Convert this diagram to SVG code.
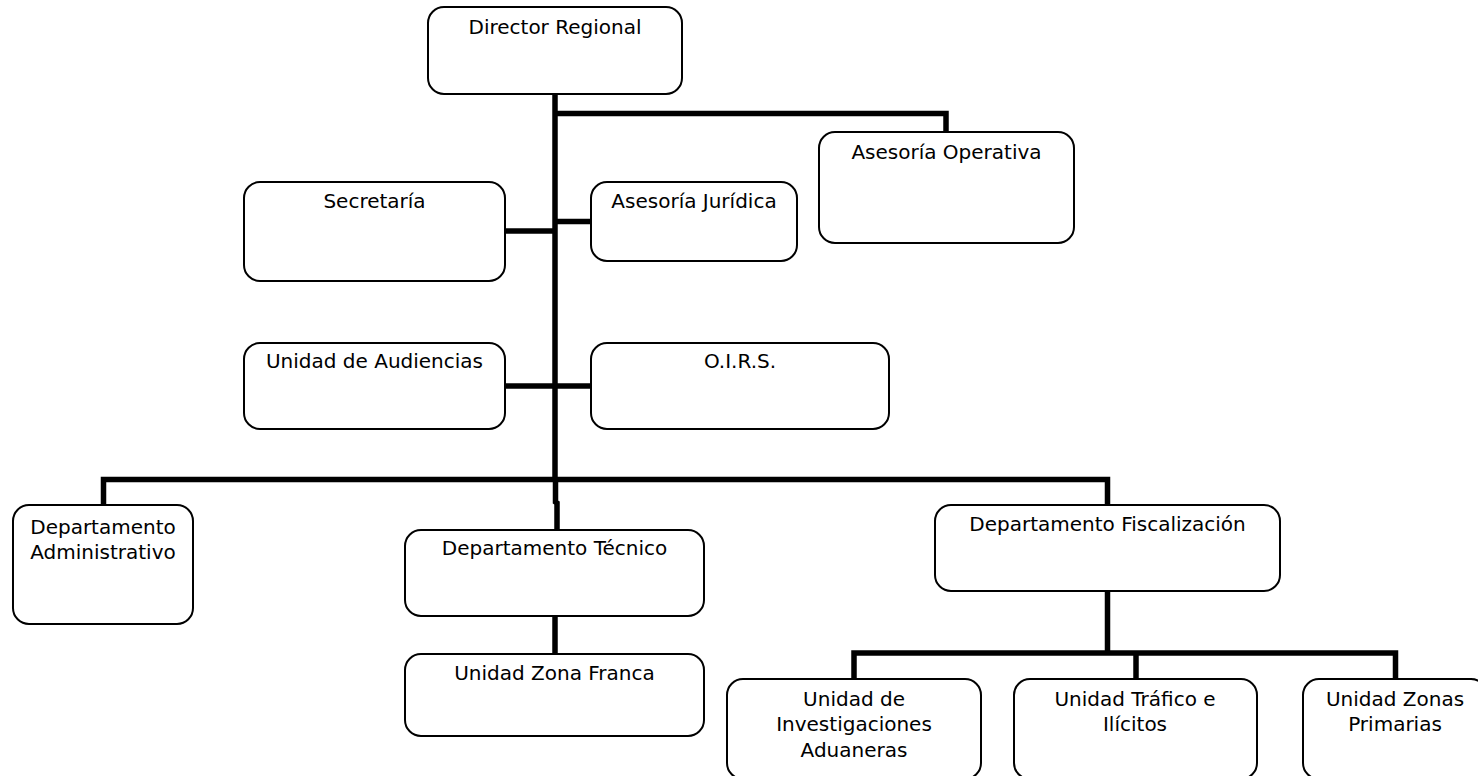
<svg xmlns="http://www.w3.org/2000/svg" width="1478" height="776" viewBox="0 0 1478 776">
  <style>
    .box { fill: #ffffff; stroke: #000000; stroke-width: 2; }
    .lbl { font-family: "DejaVu Sans", Verdana, sans-serif; font-size: 20px; fill: #000000; text-anchor: middle; }
    .wire { fill: none; stroke: #000000; stroke-width: 5.5; stroke-linejoin: miter; stroke-linecap: butt; }
  </style>
  <rect width="1478" height="776" fill="#ffffff"/>

  <!-- connectors -->
  <g id="connectors">
    <path class="wire" d="M555,94 V480"/>
    <path class="wire" d="M555,113.5 H946 V132"/>
    <path class="wire" d="M505,231 H555"/>
    <path class="wire" d="M555,221.5 H591"/>
    <path class="wire" d="M505,386 H591"/>
    <path class="wire" d="M103.5,505 V479.5 H1107.5 V505"/>
    <path class="wire" d="M555.5,480 V502 L557,503 V530"/>
    <path class="wire" d="M555,616 V654"/>
    <path class="wire" d="M1107.5,591 V653"/>
    <path class="wire" d="M854,679 V653 H1395.5 V679"/>
    <path class="wire" d="M1136,653 V679"/>
  </g>

  <g id="director-regional">
    <rect class="box" x="428" y="7" width="254" height="87" rx="16"/>
    <text class="lbl" x="555" y="33.5">Director Regional</text>
  </g>

  <g id="asesoria-operativa">
    <rect class="box" x="819" y="132" width="255" height="111" rx="16"/>
    <text class="lbl" x="946.5" y="159">Asesoría Operativa</text>
  </g>

  <g id="secretaria">
    <rect class="box" x="244" y="182" width="261" height="99" rx="16"/>
    <text class="lbl" x="374.5" y="207.5">Secretaría</text>
  </g>

  <g id="asesoria-juridica">
    <rect class="box" x="591" y="182" width="206" height="79" rx="16"/>
    <text class="lbl" x="694" y="207.5">Asesoría Jurídica</text>
  </g>

  <g id="unidad-audiencias">
    <rect class="box" x="244" y="343" width="261" height="86" rx="16"/>
    <text class="lbl" x="374.5" y="367.5">Unidad de Audiencias</text>
  </g>

  <g id="oirs">
    <rect class="box" x="591" y="343" width="298" height="86" rx="16"/>
    <text class="lbl" x="740" y="367.5">O.I.R.S.</text>
  </g>

  <g id="departamento-administrativo">
    <rect class="box" x="13" y="505" width="180" height="119" rx="16"/>
    <text class="lbl" x="103" y="534">Departamento</text>
    <text class="lbl" x="103" y="558.5">Administrativo</text>
  </g>

  <g id="departamento-tecnico">
    <rect class="box" x="405" y="530" width="299" height="86" rx="16"/>
    <text class="lbl" x="554.5" y="555">Departamento Técnico</text>
  </g>

  <g id="unidad-zona-franca">
    <rect class="box" x="405" y="654" width="299" height="82" rx="16"/>
    <text class="lbl" x="554.5" y="680">Unidad Zona Franca</text>
  </g>

  <g id="departamento-fiscalizacion">
    <rect class="box" x="935" y="505" width="345" height="86" rx="16"/>
    <text class="lbl" x="1107.5" y="530.5">Departamento Fiscalización</text>
  </g>

  <g id="unidad-investigaciones-aduaneras">
    <rect class="box" x="727" y="679" width="254" height="100" rx="16"/>
    <text class="lbl" x="854" y="706">Unidad de</text>
    <text class="lbl" x="854" y="731">Investigaciones</text>
    <text class="lbl" x="854" y="756.5">Aduaneras</text>
  </g>

  <g id="unidad-trafico-ilicitos">
    <rect class="box" x="1014" y="679" width="243" height="100" rx="16"/>
    <text class="lbl" x="1135" y="706">Unidad Tráfico e</text>
    <text class="lbl" x="1135" y="731">Ilícitos</text>
  </g>

  <g id="unidad-zonas-primarias">
    <rect class="box" x="1303" y="679" width="184" height="100" rx="16"/>
    <text class="lbl" x="1395" y="706">Unidad Zonas</text>
    <text class="lbl" x="1395" y="731">Primarias</text>
  </g>
</svg>
